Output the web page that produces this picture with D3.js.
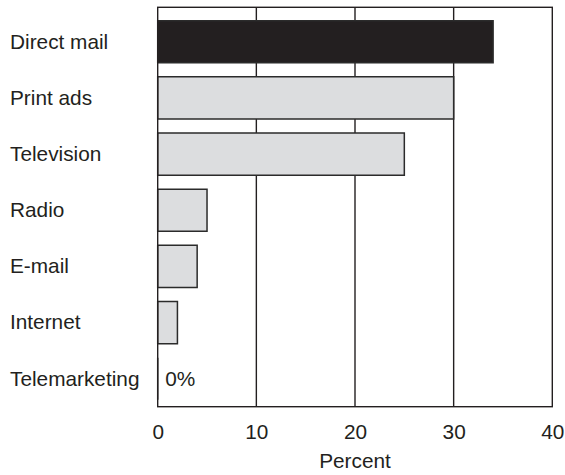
<!DOCTYPE html>
<html>
<head>
<meta charset="utf-8">
<script src="https://cdn.jsdelivr.net/npm/d3@7"></script>
<style>
  html, body { margin: 0; padding: 0; background: #fff; }
  svg { display: block; }
  text { font-family: "Liberation Sans", Arial, Helvetica, sans-serif; fill: #231f20; }
</style>
</head>
<body>
<svg id="chart" width="565" height="475"></svg>
<script>
// Share of responses by marketing channel (percent)
const categories = ["Direct mail", "Print ads", "Television", "Radio", "E-mail", "Internet", "Telemarketing"];
const values = [34, 30, 25, 5, 4, 2, 0];
const tickValues = [0, 10, 20, 30, 40];
const axisTitle = "Percent";

const plot = { left: 157.7, right: 552.3, top: 7.3, bottom: 406.7 };
const fontSize = 20.8;

const svg = d3.select("#chart");

const x = d3.scaleLinear().domain([0, 40]).range([plot.left, plot.right]);
const y = d3.scaleBand()
  .domain(categories)
  .range([plot.top, plot.bottom])
  .paddingInner(0.25)
  .paddingOuter(0.18)
  .align(0.66);

// vertical grid lines at interior ticks
svg.append("g")
  .selectAll("line")
  .data(tickValues.filter(t => t > 0 && t < 40))
  .join("line")
  .attr("x1", d => x(d)).attr("x2", d => x(d))
  .attr("y1", plot.top).attr("y2", plot.bottom)
  .attr("stroke", "#231f20")
  .attr("stroke-width", 1.4);

// bars drawn as paths so a zero value still shows its outline
svg.append("g")
  .selectAll("path")
  .data(categories.map((c, i) => ({ c, v: values[i], i })))
  .join("path")
  .attr("d", d => {
    const x0 = x(0), x1 = x(d.v), y0 = y(d.c), h = y.bandwidth();
    return `M${x0},${y0}H${x1}V${y0 + h}H${x0}Z`;
  })
  .attr("fill", d => d.i === 0 ? "#231f20" : "#dcdddf")
  .attr("stroke", "#2b2b2b")
  .attr("stroke-width", 1.5);

// plot frame
svg.append("rect")
  .attr("x", plot.left).attr("y", plot.top)
  .attr("width", plot.right - plot.left)
  .attr("height", plot.bottom - plot.top)
  .attr("fill", "none")
  .attr("stroke", "#231f20")
  .attr("stroke-width", 1.4);

// category labels
svg.append("g")
  .selectAll("text")
  .data(categories)
  .join("text")
  .attr("x", 10)
  .attr("y", d => y(d) + y.bandwidth() / 2 + 6.8)
  .attr("font-size", fontSize)
  .text(d => d);

// value note for the zero bar
categories.forEach((c, i) => {
  if (values[i] === 0) {
    svg.append("text")
      .attr("x", x(0) + 7.5)
      .attr("y", y(c) + y.bandwidth() / 2 + 6.8)
      .attr("font-size", fontSize)
      .text(values[i] + "%");
  }
});

// x axis tick labels
const xAxis = d3.axisBottom(x)
  .tickValues(tickValues)
  .tickSize(0)
  .tickPadding(0)
  .tickFormat(d3.format("d"));

const gx = svg.append("g")
  .attr("transform", `translate(0,${plot.bottom})`)
  .call(xAxis);
gx.select(".domain").remove();
gx.selectAll("text")
  .attr("font-size", fontSize)
  .attr("font-family", null)
  .attr("dy", null)
  .attr("y", 32.3)
  .attr("fill", "#231f20");

// axis title
svg.append("text")
  .attr("x", (plot.left + plot.right) / 2)
  .attr("y", 468)
  .attr("text-anchor", "middle")
  .attr("font-size", fontSize)
  .text(axisTitle);
</script>
</body>
</html>
